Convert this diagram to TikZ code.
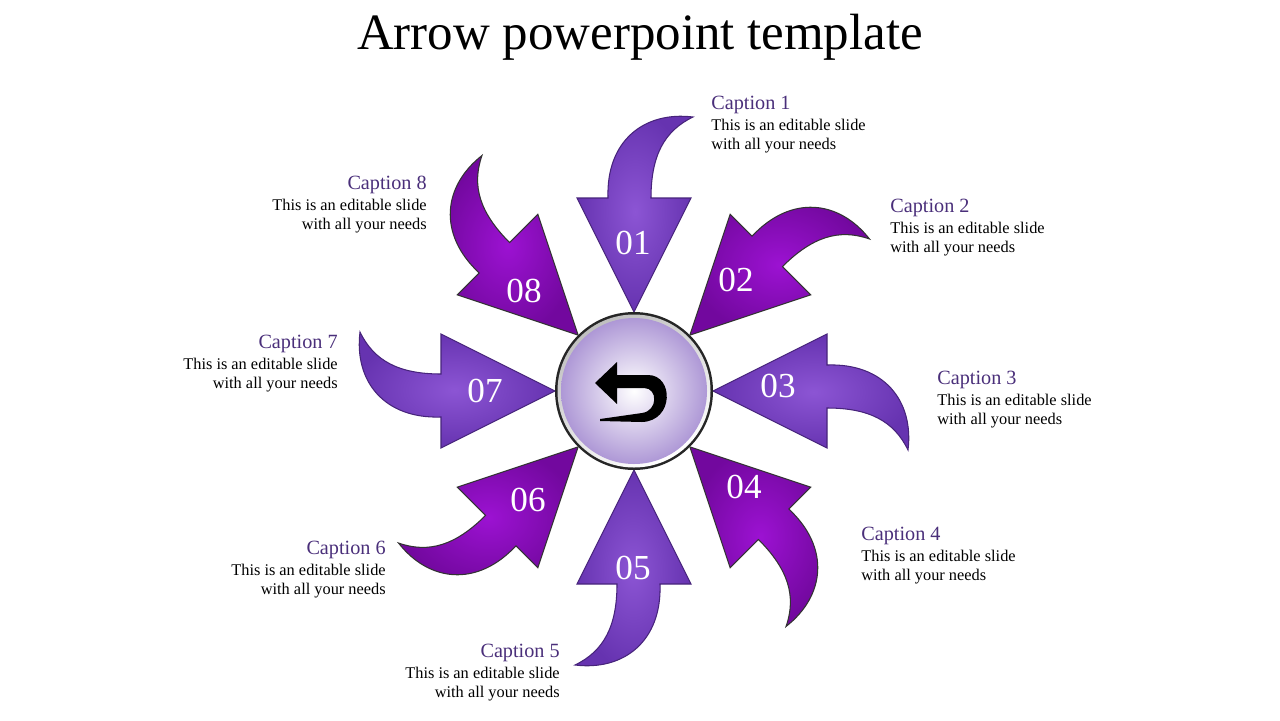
\documentclass[tikz,border=0pt]{standalone}
\usepackage{fontspec}
\setmainfont{Liberation Serif}
\begin{document}
\begin{tikzpicture}[x=0.02cm,y=0.02cm]
\definecolor{capc}{HTML}{4A2F7A}
\definecolor{lin}{HTML}{8C55D4}\definecolor{lout}{HTML}{6633B0}
\definecolor{din}{HTML}{9C12D2}\definecolor{dout}{HTML}{72089E}
\definecolor{lav}{HTML}{AE98D6}
\tikzset{
 lightarr/.style={inner color=lin,outer color=lout,draw=lout!70!black,line width=0.6pt},
 darkarr/.style={inner color=din,outer color=dout,draw=black!80,line width=0.6pt},
 num/.style={text=white,font=\fontsize{20}{20}\selectfont},
 capt/.style={inner sep=0pt,font=\fontsize{9.3}{10.8}\selectfont}
}
\newcommand\arrowpathX{(0,79) -- (-57,193) -- (-26,193) .. controls (-28,250) and (10,280) .. (59,274) .. controls (30,260) and (17,235) .. (17,193) -- (57,193) -- cycle}
\useasboundingbox (0,0) rectangle (1280,-720);
\node (title) at (640,-37) {\fontsize{29}{29}\selectfont Arrow powerpoint template};
\begin{scope}[shift={(634,-391)},rotate=0]\shade[lightarr] \arrowpathX;\end{scope}
\begin{scope}[shift={(634,-391)},rotate=-45]\shade[darkarr] \arrowpathX;\end{scope}
\begin{scope}[shift={(634,-391)},rotate=-90]\shade[lightarr] \arrowpathX;\end{scope}
\begin{scope}[shift={(634,-391)},rotate=-135]\shade[darkarr] \arrowpathX;\end{scope}
\begin{scope}[shift={(634,-391)},rotate=-180]\shade[lightarr] \arrowpathX;\end{scope}
\begin{scope}[shift={(634,-391)},rotate=-225]\shade[darkarr] \arrowpathX;\end{scope}
\begin{scope}[shift={(634,-391)},rotate=-270]\shade[lightarr] \arrowpathX;\end{scope}
\begin{scope}[shift={(634,-391)},rotate=-315]\shade[darkarr] \arrowpathX;\end{scope}
% center
\fill[black!85] (634,-391) circle (79);
\shade[top color=gray!50,bottom color=white,shading angle=30] (634,-391) circle (76.5);
\shade[inner color=white,outer color=lav] (634,-391) circle (73);
\node (hub) at (634,-391) {};
\begin{scope}[shift={(634,-391)}]
\fill[black] (-39,8) -- (-17,29) -- (-17,16) -- (14,16) .. controls (40,16) and (40,-30) .. (8,-31) -- (-34,-30) -- (-34,-28) -- (8,-22) .. controls (24,-20) and (24,3) .. (10,3) -- (-17,3) -- (-17,-13) -- cycle;
\end{scope}
\node[num] (n1) at (633,-243) {01};
\node[num] (n2) at (736,-280) {02};
\node[num] (n3) at (778,-386) {03};
\node[num] (n4) at (744,-487) {04};
\node[num] (n5) at (633,-568) {05};
\node[num] (n6) at (528,-500) {06};
\node[num] (n7) at (485,-391) {07};
\node[num] (n8) at (524,-291) {08};
\newcommand\capblock[1]{{\fontsize{11.5}{11.5}\selectfont\color{capc}Caption #1}\\[1pt]This is an editable slide\\with all your needs}
\node[capt,align=left,anchor=north west] (c1) at (711,-96) {\capblock{1}};
\node[capt,align=left,anchor=north west] (c2) at (890,-199) {\capblock{2}};
\node[capt,align=left,anchor=north west] (c3) at (937,-371) {\capblock{3}};
\node[capt,align=left,anchor=north west] (c4) at (861,-527) {\capblock{4}};
\node[capt,align=right,anchor=north east] (c5) at (560,-644) {\capblock{5}};
\node[capt,align=right,anchor=north east] (c6) at (386,-541) {\capblock{6}};
\node[capt,align=right,anchor=north east] (c7) at (338,-335) {\capblock{7}};
\node[capt,align=right,anchor=north east] (c8) at (427,-176) {\capblock{8}};
\end{tikzpicture}
\end{document}
